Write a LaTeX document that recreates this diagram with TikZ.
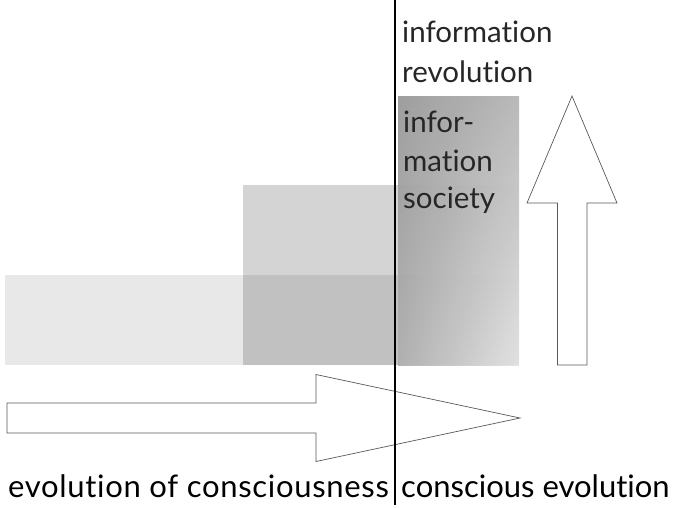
\documentclass[tikz,border=0pt]{standalone}
\usepackage{fontspec}
\setmainfont{Lato}[Ligatures=NoCommon]
\usetikzlibrary{positioning,shadings}
\tikzstyle{band}=[draw=none,fill=black]
\tikzstyle{blockarrow}=[draw=black!65,fill=white,line width=0.7pt,line join=miter]
\tikzstyle{toplabel}=[anchor=base west,inner sep=0pt,text=black!85,font=\fontsize{29.5}{38}\selectfont]
\tikzstyle{bottomlabel}=[anchor=base west,inner sep=0pt,font=\fontsize{31}{36}\selectfont]

\begin{document}
\begin{tikzpicture}[x=1pt,y=-1pt]
  \useasboundingbox (0,0) rectangle (674,507);
  % grey steps
  \fill[band,fill opacity=0.09] (5,275) rectangle (519,365);
  \fill[band,fill opacity=0.17] (243,185) rectangle (519,365);
  \shade[upper left=black!40,upper right=black!29,lower left=black!31,lower right=black!11,opacity=0.95] (398,96) rectangle (519,365);
  % block arrows
  \draw[blockarrow] (557.5,365) -- (557.5,203) -- (527,203) -- (572,96) -- (617,203) -- (587,203) -- (587,365) -- cycle;
  \draw[blockarrow] (7,403) -- (316,403) -- (316,374.5) -- (520,418) -- (316,461.5) -- (316,433) -- (7,433) -- cycle;
  % divider
  \coordinate (divtop) at (395,0);
  \coordinate (divbot) at (395,505);
  \draw[line width=1.3pt] (divtop) -- (divbot);
  % labels
  \node[toplabel] (rev1) at (402,42) {information};
  \node[toplabel] (rev2) at (402,82) {revolution};
  \node[toplabel] (soc1) at (403,132) {infor-};
  \node[toplabel] (soc2) at (403,171) {mation};
  \node[toplabel] (soc3) at (403,208) {society};
  \node[bottomlabel] (left) at (8,497) {\addfontfeature{LetterSpace=2.2}evolution of consciousness};
  \node[bottomlabel] (right) at (401,497) {conscious evolution};
\end{tikzpicture}
\end{document}
